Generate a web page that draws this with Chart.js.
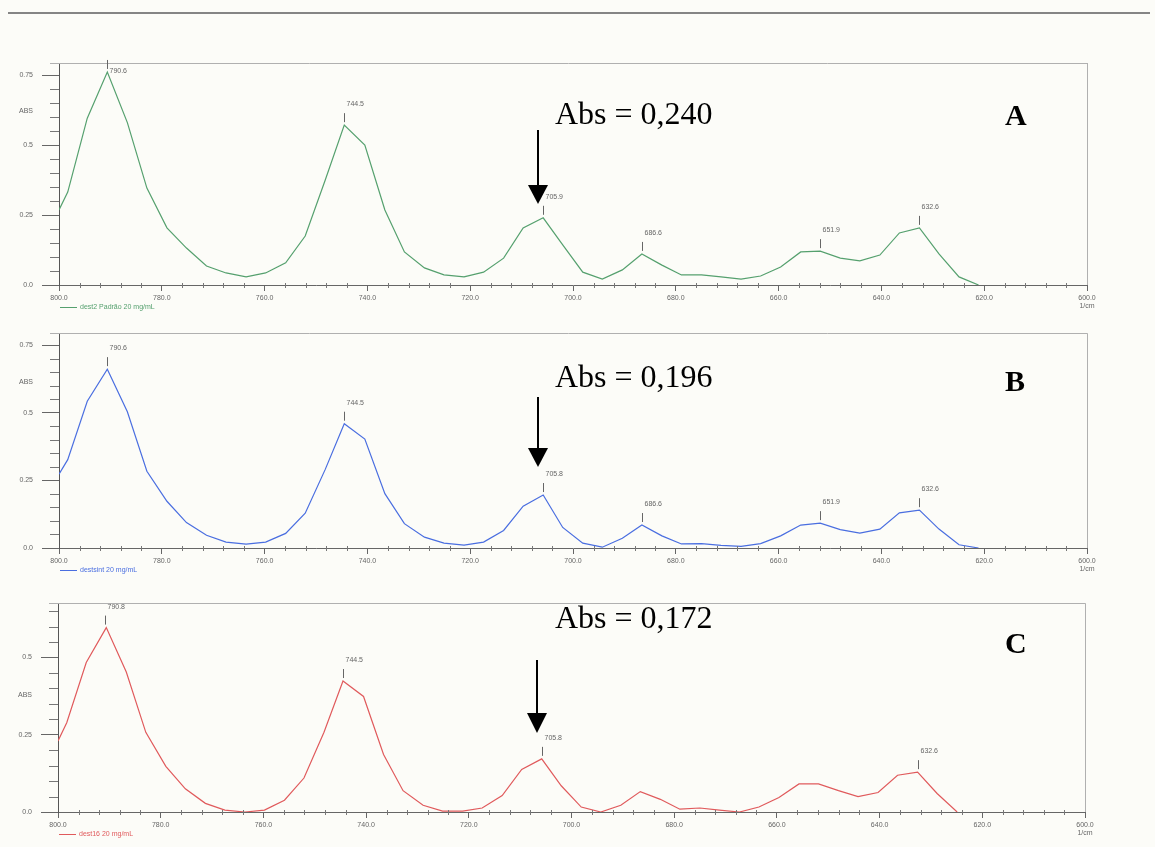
<!DOCTYPE html>
<html>
<head>
<meta charset="utf-8">
<script src="https://cdn.jsdelivr.net/npm/chart.js@4.4.1/dist/chart.umd.min.js"></script>
<style>
  html, body { margin: 0; padding: 0; background: #fcfcf8; }
  #wrap { position: relative; width: 1155px; height: 847px; overflow: hidden; }
  #wrap canvas { position: absolute; left: 0; }
</style>
</head>
<body>
<div id="wrap">
  <canvas id="panelA" width="1155" height="320" style="top:0px"></canvas>
  <canvas id="panelB" width="1155" height="270" style="top:320px"></canvas>
  <canvas id="panelC" width="1155" height="257" style="top:590px"></canvas>
</div>
<script>
// Wavelength grid of the scans (nm), from 800 down to ~620
const wavelengthNm = [
  800.0, 798.3, 794.5, 790.6, 786.7, 782.9, 779.0, 775.2, 771.3, 767.5,
  763.6, 759.8, 755.9, 752.1, 748.2, 744.5, 740.5, 736.6, 732.8, 728.9,
  725.1, 721.2, 717.4, 713.5, 709.7, 705.8, 702.0, 698.1, 694.3, 690.4,
  686.6, 682.7, 678.9, 675.0, 671.2, 667.3, 663.5, 659.6, 655.7, 651.9,
  648.0, 644.2, 640.3, 636.5, 632.6, 628.8, 624.9, 621.1
];

// Absorbance, panel A: dest2 Padrão 20 mg/mL
const absDest2Padrao = [
  0.268, 0.332, 0.596, 0.761, 0.580, 0.346, 0.204, 0.132, 0.068, 0.043,
  0.029, 0.043, 0.079, 0.175, 0.375, 0.571, 0.500, 0.268, 0.118, 0.061,
  0.036, 0.029, 0.046, 0.096, 0.204, 0.240, 0.143, 0.046, 0.021, 0.054,
  0.111, 0.071, 0.036, 0.036, 0.029, 0.021, 0.032, 0.064, 0.118, 0.121,
  0.096, 0.086, 0.107, 0.186, 0.204, 0.111, 0.029, 0.000
];

// Absorbance, panel B: destsint 20 mg/mL
const absDestsint = [
  0.273, 0.327, 0.543, 0.662, 0.504, 0.284, 0.173, 0.094, 0.047, 0.022,
  0.014, 0.022, 0.054, 0.129, 0.291, 0.460, 0.403, 0.201, 0.090, 0.040,
  0.018, 0.011, 0.022, 0.065, 0.155, 0.196, 0.076, 0.018, 0.003, 0.036,
  0.085, 0.045, 0.015, 0.016, 0.010, 0.006, 0.016, 0.045, 0.085, 0.092,
  0.068, 0.055, 0.070, 0.130, 0.140, 0.070, 0.012, 0.000
];

// Absorbance, panel C: dest16 20 mg/mL
const absDest16 = [
  0.230, 0.289, 0.484, 0.597, 0.453, 0.258, 0.148, 0.075, 0.028, 0.006,
  0.000, 0.006, 0.038, 0.110, 0.258, 0.424, 0.374, 0.186, 0.069, 0.022,
  0.003, 0.003, 0.013, 0.053, 0.138, 0.172, 0.085, 0.016, 0.000, 0.022,
  0.066, 0.041, 0.009, 0.013, 0.006, 0.000, 0.016, 0.047, 0.091, 0.091,
  0.069, 0.050, 0.063, 0.119, 0.129, 0.060, 0.000, null
];

// Picked peaks (nm) shown above each trace
const peaksA = [790.6, 744.5, 705.9, 686.6, 651.9, 632.6];
const peaksB = [790.6, 744.5, 705.8, 686.6, 651.9, 632.6];
const peaksC = [790.8, 744.5, 705.8, 632.6];

// Band whose absorbance is quoted in each panel
const markedWavelength = 705.8;

// Axis tick steps
const xMajorStep = 20;
const xMinorStep = 4;
const yMajorStep = 0.25;
const yMinorStep = 0.05;

const sansFont = '"Liberation Sans", Arial, sans-serif';
const serifFont = '"Liberation Serif", "Times New Roman", serif';

function nearestIndex(w) {
  let best = 0;
  for (let i = 1; i < wavelengthNm.length; i++) {
    if (Math.abs(wavelengthNm[i] - w) < Math.abs(wavelengthNm[best] - w)) best = i;
  }
  return best;
}

function decorPlugin(p) {
  return {
    id: 'spectrumDecor',
    afterDraw(chart) {
      const ctx = chart.ctx;
      const a = chart.chartArea;
      const xs = chart.scales.x;
      const ys = chart.scales.y;
      ctx.save();

      if (p.pageRule) {
        ctx.strokeStyle = '#858585';
        ctx.lineWidth = 2;
        ctx.beginPath();
        ctx.moveTo(8, 13);
        ctx.lineTo(1150, 13);
        ctx.stroke();
      }

      // plot frame (top and right edges)
      ctx.strokeStyle = '#b0b0b0';
      ctx.lineWidth = 1;
      ctx.beginPath();
      ctx.moveTo(a.left - 9, Math.round(a.top) + 0.5);
      ctx.lineTo(a.right, Math.round(a.top) + 0.5);
      ctx.moveTo(Math.round(a.right) + 0.5, a.top);
      ctx.lineTo(Math.round(a.right) + 0.5, a.bottom);
      ctx.stroke();

      // minor ticks
      ctx.strokeStyle = '#777';
      ctx.beginPath();
      for (let w = 600 + xMinorStep; w < 800; w += xMinorStep) {
        if (w % xMajorStep === 0) continue;
        const px = Math.round(xs.getPixelForValue(w)) + 0.5;
        ctx.moveTo(px, a.bottom - 2);
        ctx.lineTo(px, a.bottom + 3);
      }
      for (let k = 1; k * yMinorStep <= ys.max + 1e-9; k++) {
        if (k % 5 === 0) continue;
        const py = Math.round(ys.getPixelForValue(k * yMinorStep)) + 0.5;
        ctx.moveTo(a.left - 9, py);
        ctx.lineTo(a.left, py);
      }
      ctx.stroke();

      // ABS axis title and unit
      ctx.fillStyle = '#666';
      ctx.font = '7px ' + sansFont;
      ctx.textAlign = 'right';
      ctx.textBaseline = 'middle';
      ctx.fillText('ABS', a.left - 26, ys.getPixelForValue(p.absTitleAt));
      ctx.textAlign = 'center';
      ctx.textBaseline = 'top';
      ctx.fillText('1/cm', a.right, a.bottom + 18);

      // legend entry
      ctx.strokeStyle = p.color;
      ctx.lineWidth = 1;
      ctx.beginPath();
      ctx.moveTo(a.left + 1, a.bottom + 22.5);
      ctx.lineTo(a.left + 18, a.bottom + 22.5);
      ctx.stroke();
      ctx.fillStyle = p.color;
      ctx.textAlign = 'left';
      ctx.textBaseline = 'middle';
      ctx.fillText(p.legend, a.left + 21, a.bottom + 22);

      // peak markers
      ctx.strokeStyle = '#666';
      ctx.fillStyle = '#666';
      ctx.lineWidth = 1;
      ctx.font = '7px ' + sansFont;
      ctx.textAlign = 'left';
      ctx.textBaseline = 'middle';
      for (const pk of p.peaks) {
        const i = nearestIndex(pk);
        const px = Math.round(xs.getPixelForValue(pk)) + 0.5;
        const py = ys.getPixelForValue(p.values[i]);
        const top = py - 12;
        ctx.beginPath();
        ctx.moveTo(px, top);
        ctx.lineTo(px, py - 3);
        ctx.stroke();
        let ly = top - 9;
        if (ly < a.top) ly = a.top + 8;
        ctx.fillText(pk.toFixed(1), px + 2, ly);
      }

      // quoted absorbance and arrow
      const iMark = nearestIndex(markedWavelength);
      const absText = 'Abs = ' + p.values[iMark].toFixed(3).replace('.', ',');
      ctx.fillStyle = '#000';
      ctx.font = '32px ' + serifFont;
      ctx.textAlign = 'left';
      ctx.textBaseline = 'alphabetic';
      ctx.fillText(absText, 555, p.textBaseline);
      ctx.font = 'bold 30px ' + serifFont;
      ctx.fillText(p.panel, 1005, p.panelBaseline);

      const ax = Math.round(xs.getPixelForValue(markedWavelength)) - 5;
      ctx.strokeStyle = '#000';
      ctx.lineWidth = 2;
      ctx.beginPath();
      ctx.moveTo(ax, p.arrowTop);
      ctx.lineTo(ax, p.arrowHead + 2);
      ctx.stroke();
      ctx.beginPath();
      ctx.moveTo(ax - 10, p.arrowHead);
      ctx.lineTo(ax + 10, p.arrowHead);
      ctx.lineTo(ax, p.arrowTip);
      ctx.closePath();
      ctx.fill();

      ctx.restore();
    }
  };
}

function makePanel(id, p) {
  const canvas = document.getElementById(id);
  const H = canvas.height;
  return new Chart(canvas, {
    type: 'line',
    data: {
      labels: wavelengthNm,
      datasets: [{
        label: p.legend,
        data: wavelengthNm.map((w, i) => ({ x: w, y: p.values[i] })),
        borderColor: p.color,
        borderWidth: 1.2,
        pointRadius: 0,
        tension: 0,
        fill: false,
        spanGaps: false
      }]
    },
    options: {
      responsive: false,
      animation: false,
      devicePixelRatio: 1,
      layout: { padding: { left: 0, right: 1155 - p.right, top: p.top, bottom: 0 } },
      plugins: { legend: { display: false }, tooltip: { enabled: false } },
      scales: {
        x: {
          type: 'linear',
          reverse: true,
          min: 600,
          max: 800,
          afterFit(scale) { scale.height = H - p.bottom; },
          border: { display: true, color: '#666', width: 1 },
          grid: { drawOnChartArea: false, drawTicks: true, tickLength: 6, color: '#666' },
          ticks: {
            stepSize: xMajorStep,
            autoSkip: false,
            maxRotation: 0,
            padding: 3,
            color: '#666',
            font: { family: sansFont, size: 7 },
            callback: (v) => Number(v).toFixed(1)
          }
        },
        y: {
          type: 'linear',
          min: 0,
          max: p.yMax,
          afterFit(scale) { scale.width = p.left; },
          afterBuildTicks(scale) {
            scale.ticks = scale.ticks.filter(t => Math.abs(t.value / yMajorStep - Math.round(t.value / yMajorStep)) < 1e-6);
          },
          border: { display: true, color: '#555', width: 1 },
          grid: { drawOnChartArea: false, drawTicks: true, tickLength: 17, color: '#666' },
          ticks: {
            stepSize: yMajorStep,
            padding: 9,
            color: '#666',
            font: { family: sansFont, size: 7 },
            callback: (v) => (v === 0 ? '0.0' : String(v))
          }
        }
      }
    },
    plugins: [decorPlugin(p)]
  });
}

makePanel('panelA', {
  values: absDest2Padrao, peaks: peaksA, color: '#55a06e', legend: 'dest2 Padrão 20 mg/mL',
  panel: 'A', left: 59, right: 1087, top: 63, bottom: 285, yMax: 0.793, absTitleAt: 0.62,
  pageRule: true, textBaseline: 124, panelBaseline: 125, arrowTop: 130, arrowHead: 185, arrowTip: 204
});
makePanel('panelB', {
  values: absDestsint, peaks: peaksB, color: '#4a6ee0', legend: 'destsint 20 mg/mL',
  panel: 'B', left: 59, right: 1087, top: 7, bottom: 228, yMax: 0.795, absTitleAt: 0.615,
  pageRule: false, textBaseline: 67, panelBaseline: 71, arrowTop: 77, arrowHead: 128, arrowTip: 147
});
makePanel('panelC', {
  values: absDest16, peaks: peaksC, color: '#e05a5c', legend: 'dest16 20 mg/mL',
  panel: 'C', left: 58, right: 1085, top: 7, bottom: 222, yMax: 0.676, absTitleAt: 0.377,
  pageRule: false, textBaseline: 38, panelBaseline: 63, arrowTop: 70, arrowHead: 123, arrowTip: 143
});
</script>
</body>
</html>
